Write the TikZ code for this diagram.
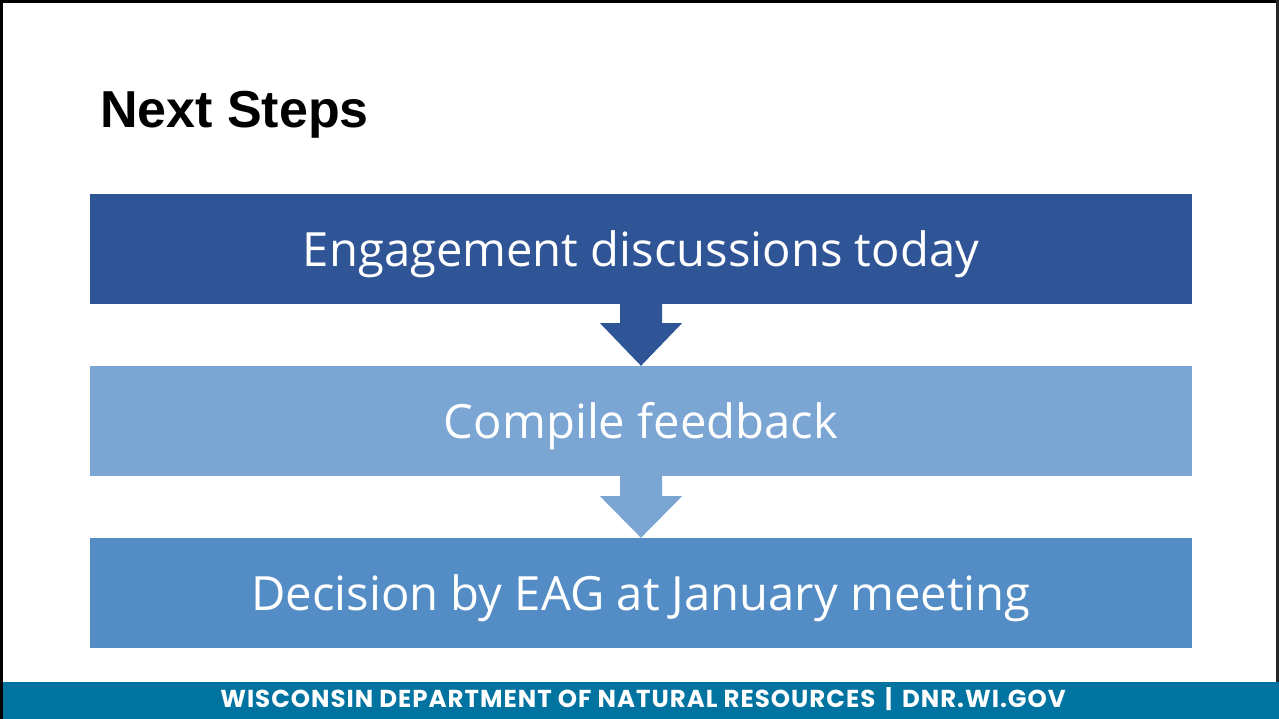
\documentclass[tikz,border=0pt]{standalone}
\usepackage{fontspec}
\usetikzlibrary{calc}
\newfontfamily\boxfont{Open Sans}
\newfontfamily\titlefont{Liberation Sans}
\newfontfamily\footfont[LetterSpace=4.0]{Poppins}
\definecolor{cA}{HTML}{2F5597}
\definecolor{cB}{HTML}{7BA5D3}
\definecolor{cC}{HTML}{548DC5}
\definecolor{cFoot}{HTML}{0073A1}
\begin{document}
\begin{tikzpicture}[x=1pt,y=-1pt,
  stepbox/.style={draw=none,inner sep=0pt,minimum width=1102pt,minimum height=110pt},
  boxtext/.style={anchor=base,text=white,inner sep=0pt,font=\boxfont\fontsize{47.2}{56}\selectfont},
]
\useasboundingbox (0,0) rectangle (1279,719);
\fill[white] (0,0) rectangle (1279,719);
% frame
\fill[black] (0,0) rectangle (1279,3);
\fill[black] (0,0) rectangle (3,719);
\fill[black!85] (1276,0) rectangle (1279,719);
% title
\node[anchor=base west,inner sep=0pt,font=\titlefont\bfseries\fontsize{52}{60}\selectfont] (title) at (100,128) {Next Steps};
% boxes
\node[stepbox,fill=cA] (b1) at (641,249) {};
\node[stepbox,fill=cB] (b2) at (641,421) {};
\node[stepbox,fill=cC] (b3) at (641,593) {};
\node[boxtext] (t1) at ($(b1.center)+(0,17)$) {Engagement discussions today};
\node[boxtext] (t2) at ($(b2.center)+(0,17)$) {Compile feedback};
\node[boxtext] (t3) at ($(b3.center)+(0,17)$) {Decision by EAG at January meeting};
% arrows
\fill[cA] ($(b1.south)+(-21,0)$) -- ($(b1.south)+(-21,19)$) -- ($(b1.south)+(-41,19)$) -- (b2.north) -- ($(b1.south)+(41,19)$) -- ($(b1.south)+(21,19)$) -- ($(b1.south)+(21,0)$) -- cycle;
\fill[cB] ($(b2.south)+(-21,0)$) -- ($(b2.south)+(-21,20)$) -- ($(b2.south)+(-41,20)$) -- (b3.north) -- ($(b2.south)+(41,20)$) -- ($(b2.south)+(21,20)$) -- ($(b2.south)+(21,0)$) -- cycle;
% footer
\node[draw=none,fill=cFoot,inner sep=0pt,minimum width=1276pt,minimum height=37pt,anchor=north west] (foot) at (3,682) {};
\node[anchor=base,inner sep=0pt,text=white,font=\footfont\bfseries\fontsize{24.5}{28}\selectfont] (foottext) at (643,707) {WISCONSIN DEPARTMENT OF NATURAL RESOURCES\hspace{0.4em}|\hspace{0.4em}DNR.WI.GOV};
\end{tikzpicture}
\end{document}
